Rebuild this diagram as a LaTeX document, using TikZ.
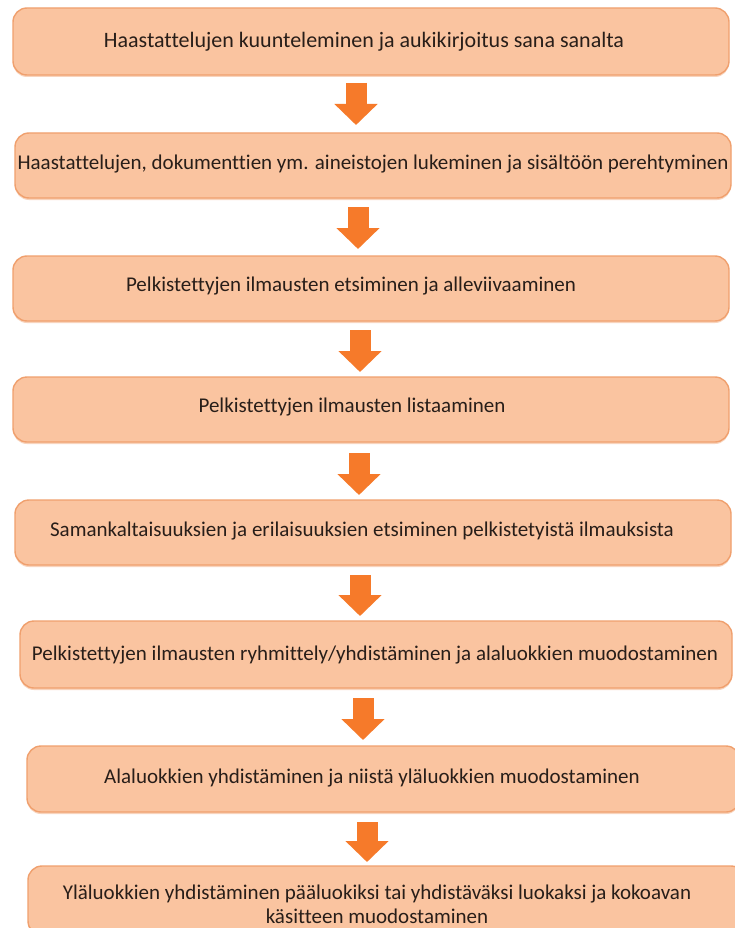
\documentclass[tikz,border=0pt]{standalone}
\usepackage{fontspec}
\setmainfont{Carlito}[Ligatures=NoCommon]
\usetikzlibrary{arrows.meta,shadows}
\definecolor{boxfill}{RGB}{250,196,160}
\definecolor{boxline}{RGB}{240,160,110}
\definecolor{arrowc}{RGB}{246,122,42}
\definecolor{txt}{RGB}{40,30,25}
\begin{document}
\begin{tikzpicture}[x=1pt,y=-1pt,
 stagebox/.style={draw=boxline, line width=1.4pt, fill=boxfill, rounded corners=14pt, inner sep=0pt,
   drop shadow={shadow xshift=0pt, shadow yshift=-2pt, fill=boxline, opacity=0.45}},
 stagetext/.style={text=txt, font=\fontsize{21}{24}\selectfont, inner sep=0pt, align=center},
 blockarrow/.style={draw=arrowc, line width=21pt, -{Triangle[width=42pt,length=21pt]}}
]
\useasboundingbox (0,0) rectangle (734,928);
\fill[white] (0,0) rectangle (734,928);
% boxes
\node[stagebox, minimum width=716pt, minimum height=67pt] (b1) at (371,41.5) {};
\node[stagebox, minimum width=716pt, minimum height=65pt] (b2) at (373,165.5) {};
\node[stagebox, minimum width=716pt, minimum height=65pt] (b3) at (371,288.5) {};
\node[stagebox, minimum width=716pt, minimum height=65pt] (b4) at (371,409.5) {};
\node[stagebox, minimum width=716pt, minimum height=65pt] (b5) at (373,532.5) {};
\node[stagebox, minimum width=712pt, minimum height=67pt] (b6) at (376,654.5) {};
\node[stagebox, minimum width=713pt, minimum height=66pt] (b7) at (383.5,779) {};
\node[stagebox, minimum width=717pt, minimum height=69pt] (b8) at (386.5,900.5) {};
% texts
\node[stagetext, font=\fontsize{22}{24}\selectfont] (t1) at (364,42) {Haastattelujen kuunteleminen ja aukikirjoitus sana sanalta};
\node[stagetext] (t2) at (373,164) {Haastattelujen, dokumenttien ym. aineistojen lukeminen ja sisältöön perehtyminen};
\node[stagetext] (t3) at (351,286) {Pelkistettyjen ilmausten etsiminen ja alleviivaaminen};
\node[stagetext] (t4) at (352,407) {Pelkistettyjen ilmausten listaaminen};
\node[stagetext] (t5) at (362,531) {Samankaltaisuuksien ja erilaisuuksien etsiminen pelkistetyistä ilmauksista};
\node[stagetext] (t6) at (375,655) {Pelkistettyjen ilmausten ryhmittely/yhdistäminen ja alaluokkien muodostaminen};
\node[stagetext] (t7) at (372,778) {Alaluokkien yhdistäminen ja niistä yläluokkien muodostaminen};
\node[stagetext] (t8) at (377,904) {Yläluokkien yhdistäminen pääluokiksi tai yhdistäväksi luokaksi ja kokoavan\\käsitteen muodostaminen};
% arrows
\coordinate (a1s) at (356,83);  \coordinate (a1e) at (356,125);
\coordinate (a2s) at (358,207); \coordinate (a2e) at (358,249);
\coordinate (a3s) at (360,330); \coordinate (a3e) at (360,372);
\coordinate (a4s) at (359,453); \coordinate (a4e) at (359,495);
\coordinate (a5s) at (360,575); \coordinate (a5e) at (360,616);
\coordinate (a6s) at (363,698); \coordinate (a6e) at (363,740);
\coordinate (a7s) at (367,822); \coordinate (a7e) at (367,862);
\foreach \i in {1,...,7} {\draw[blockarrow] (a\i s) -- (a\i e);}
\end{tikzpicture}
\end{document}
